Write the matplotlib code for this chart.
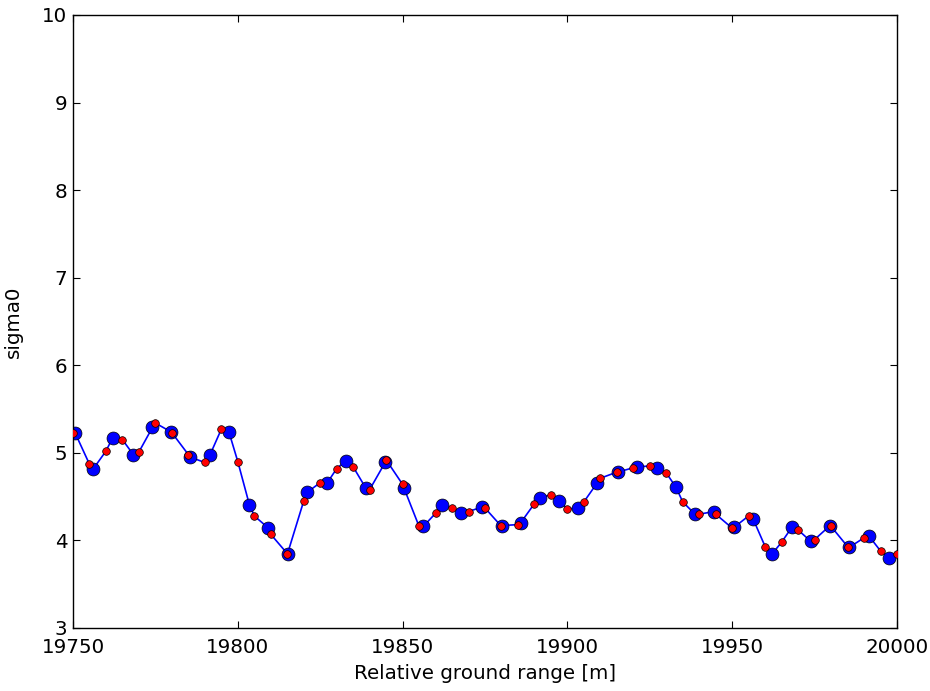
import numpy as np
import matplotlib
matplotlib.use('Agg')
import matplotlib.pyplot as plt

# coarse samples (blue)
x_coarse = [19750.6, 19756.2, 19762.0, 19768.3, 19774.1, 19779.7, 19785.6, 19791.6,
            19797.3, 19803.5, 19809.3, 19815.1, 19821.1, 19827.0, 19832.8, 19838.8,
            19844.7, 19850.4, 19856.3, 19862.0, 19867.7, 19874.0, 19880.1, 19885.8,
            19891.7, 19897.5, 19903.3, 19909.1, 19915.3, 19921.2, 19927.1, 19932.9,
            19938.7, 19944.6, 19950.6, 19956.4, 19962.2, 19968.1, 19973.8, 19979.7,
            19985.5, 19991.5, 19997.6]
s_coarse = [5.23, 4.82, 5.17, 4.98, 5.29, 5.24, 4.95, 4.98,
            5.24, 4.41, 4.14, 3.85, 4.55, 4.65, 4.91, 4.60,
            4.89, 4.60, 4.16, 4.40, 4.31, 4.38, 4.17, 4.20,
            4.49, 4.45, 4.37, 4.66, 4.78, 4.84, 4.83, 4.61,
            4.30, 4.33, 4.15, 4.24, 3.85, 4.15, 3.99, 4.17,
            3.92, 4.05, 3.80]

# resampled values every 5 m (red)
x_fine = [19750, 19755, 19760, 19765, 19770, 19775, 19780, 19785, 19790, 19795,
          19800, 19805, 19810, 19815, 19820, 19825, 19830, 19835, 19840, 19845,
          19850, 19855, 19860, 19865, 19870, 19875, 19880, 19885, 19890, 19895,
          19900, 19905, 19910, 19915, 19920, 19925, 19930, 19935, 19940, 19945,
          19950, 19955, 19960, 19965, 19970, 19975, 19980, 19985, 19990, 19995,
          20000]
s_fine = [5.23, 4.87, 5.02, 5.15, 5.01, 5.34, 5.23, 4.98, 4.89, 5.27,
          4.90, 4.28, 4.07, 3.85, 4.45, 4.66, 4.82, 4.84, 4.58, 4.92,
          4.64, 4.16, 4.31, 4.37, 4.33, 4.37, 4.16, 4.18, 4.42, 4.52,
          4.36, 4.44, 4.71, 4.78, 4.83, 4.85, 4.77, 4.44, 4.30, 4.30,
          4.14, 4.28, 3.93, 3.98, 4.12, 4.01, 4.16, 3.93, 4.03, 3.88,
          3.84]

# curve through all points
pts = sorted(zip(x_coarse + x_fine, s_coarse + s_fine))
x_line = [p[0] for p in pts]
s_line = [p[1] for p in pts]

plt.rcParams['font.size'] = 14.3
plt.rcParams['xtick.direction'] = 'in'
plt.rcParams['ytick.direction'] = 'in'
plt.rcParams['xtick.top'] = True
plt.rcParams['ytick.right'] = True

fig, ax = plt.subplots(figsize=(9.3, 6.91), dpi=100)
fig.subplots_adjust(left=0.0785, right=0.9645, bottom=0.0912, top=0.9783)

ax.plot(x_line, s_line, color='b', linewidth=1.2, zorder=1)
ax.plot(x_coarse, s_coarse, 'o', color='b', markersize=9.3, markeredgecolor='k',
        markeredgewidth=0.5, zorder=2)
ax.plot(x_fine, s_fine, 'o', color='r', markersize=5.5, markeredgecolor='k',
        markeredgewidth=0.5, zorder=3)

ax.set_xlim(19750, 20000)
ax.set_ylim(3, 10)
ax.set_xticks([19750, 19800, 19850, 19900, 19950, 20000])
ax.set_yticks(range(3, 11))
ax.tick_params(length=5, width=0.8)
ax.tick_params(axis='x', pad=7)
ax.tick_params(axis='y', pad=4)
for sp in ax.spines.values():
    sp.set_linewidth(1.0)
ax.set_xlabel('Relative ground range [m]', labelpad=5)
ax.set_ylabel('sigma0', labelpad=14)

fig.savefig('out.png', dpi=100)
